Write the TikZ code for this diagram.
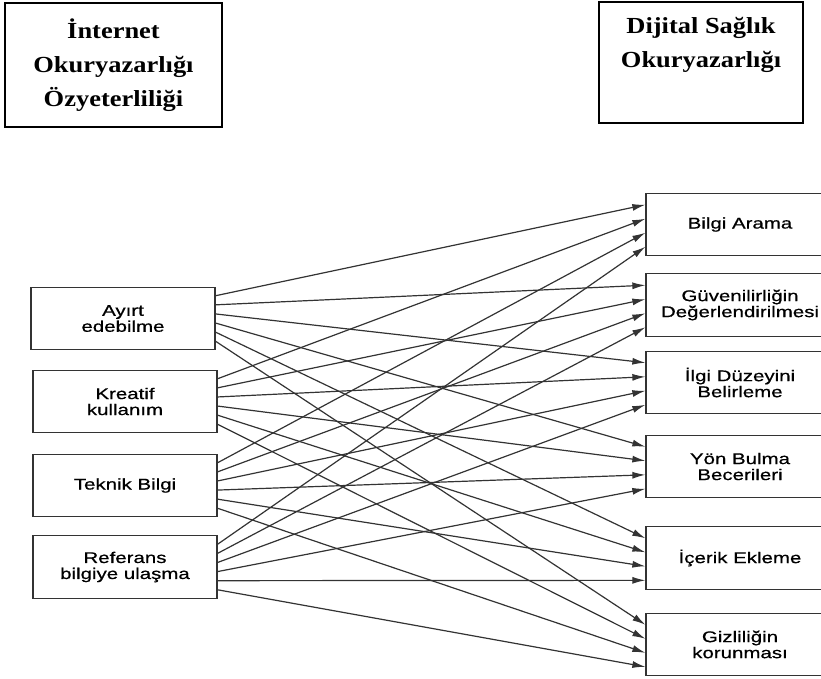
\documentclass[tikz,border=0pt]{standalone}
\usepackage{fontspec}
\newfontfamily\headfont{Liberation Serif}[FakeStretch=1.15]
\newfontfamily\itemfont{Liberation Sans}[FakeStretch=1.32, FakeBold=0.6]
\usetikzlibrary{arrows.meta,calc}
\tikzset{
  head/.style={draw=black, line width=2pt, inner sep=0pt, align=center, font=\headfont\bfseries\fontsize{23}{34}\selectfont},
  item/.style={draw=black!80, line width=1.3pt, minimum height=62.5pt, inner sep=0pt, align=center, font=\itemfont\fontsize{15.5}{16}\selectfont},
  link/.style={draw=black!80, line width=1.2pt, ->, >={Latex[length=13pt,width=7pt]}}
}
\begin{document}
\begin{tikzpicture}[x=1pt, y=-1pt]
	\clip (0,0) rectangle (821,678);
	\fill[white] (0,0) rectangle (821,678);
	\node[head, minimum width=217pt, minimum height=124pt] (ioo) at (113.5,65) {İnternet\\Okuryazarlığı\\Özyeterliliği};
	\node[head, minimum width=204pt, minimum height=121pt] (dso) at (701,62.5) {};
	\node[head, draw=none] (dsotext) at (701,45) {Dijital Sağlık\\Okuryazarlığı};
	% internet
	\node[item, minimum width=184pt] (l1) at (123,318.5) {Ayırt\\edebilme};
	\node[item, minimum width=184pt] (l2) at (125,401.5) {Kreatif\\kullanım};
	\node[item, minimum width=184pt] (l3) at (125,485.5) {Teknik Bilgi};
	\node[item, minimum width=184pt] (l4) at (125,567) {Referans\\bilgiye ulaşma};
	% dijital saglik
	\node[item, minimum width=188pt] (r1) at (740,224.5) {Bilgi Arama};
	\node[item, minimum width=188pt] (r2) at (740,305) {Güvenilirliğin\\Değerlendirilmesi};
	\node[item, minimum width=188pt] (r3) at (740,382.5) {İlgi Düzeyini\\Belirleme};
	\node[item, minimum width=188pt] (r4) at (740,466.5) {Yön Bulma\\Becerileri};
	\node[item, minimum width=188pt] (r5) at (740,558) {İçerik Ekleme};
	\node[item, minimum width=188pt] (r6) at (740,644.5) {Gizliliğin\\korunması};
	\foreach \i in {1,...,4}
		\foreach \j in {1,...,6} {
			\pgfmathsetmacro\ausf{\j/7}
			\pgfmathsetmacro\einf{0.19+0.22*(\i-1)}
			\draw[link] ($(l\i.north east)!\ausf!(l\i.south east)$) -- ($(r\j.north west)!\einf!(r\j.south west)$);
		}
\end{tikzpicture}
\end{document}
